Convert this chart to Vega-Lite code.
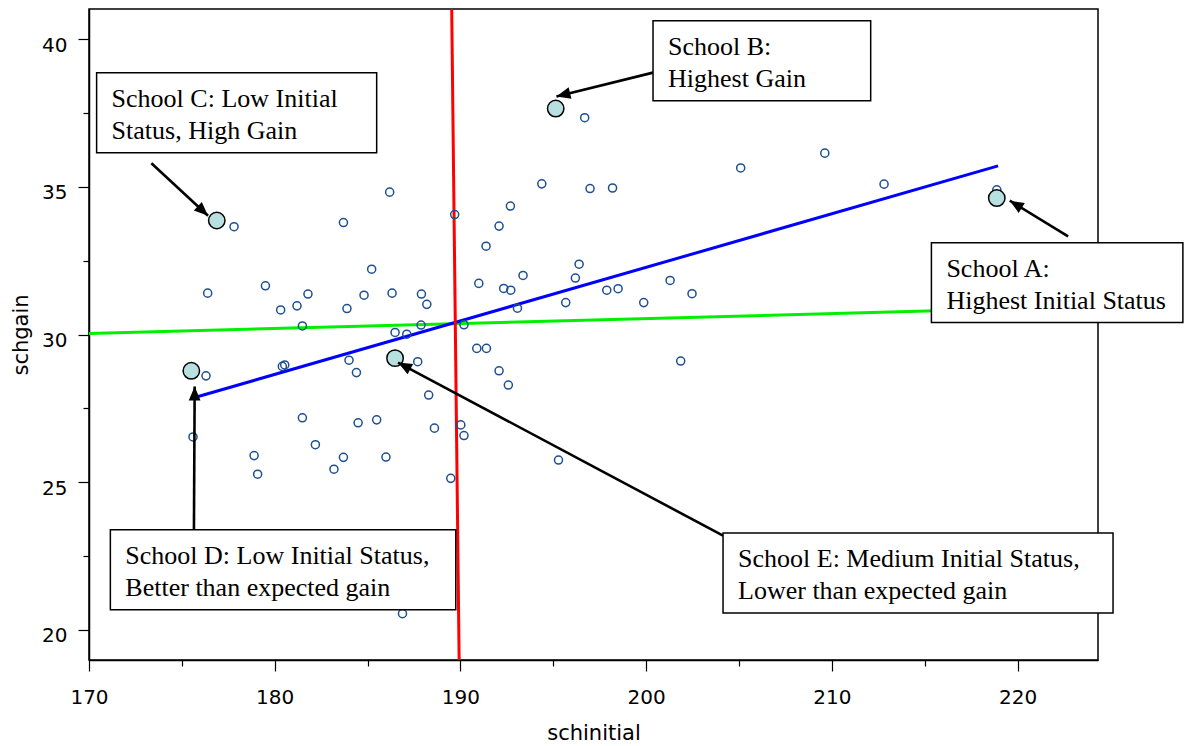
{
  "$schema": "https://vega.github.io/schema/vega-lite/v6.json",
  "width": 1009,
  "height": 651,
  "autosize": {"type": "none"},
  "padding": {"left": 89, "top": 9, "right": 87, "bottom": 86},
  "background": "white",
  "config": {
    "view": {"stroke": "#000000", "strokeWidth": 1.5},
    "axis": {
      "domainColor": "#000000", "tickColor": "#000000", "labelColor": "#000000", "titleColor": "#000000",
      "labelFont": "DejaVu Sans", "titleFont": "DejaVu Sans", "labelFontSize": 20, "titleFontSize": 21,
      "titleFontWeight": "normal", "grid": false, "domainWidth": 1.5, "tickWidth": 1.2, "labelFlush": false
    }
  },
  "datasets": {
    "pts": [
      {"schinitial": 177.81, "schgain": 33.65}, {"schinitial": 183.70, "schgain": 33.79}, {"schinitial": 186.19, "schgain": 34.82},
      {"schinitial": 189.69, "schgain": 34.06}, {"schinitial": 192.69, "schgain": 34.35}, {"schinitial": 192.08, "schgain": 33.67},
      {"schinitial": 191.38, "schgain": 32.99}, {"schinitial": 194.38, "schgain": 35.10}, {"schinitial": 196.98, "schgain": 34.94},
      {"schinitial": 198.19, "schgain": 34.96}, {"schinitial": 196.69, "schgain": 37.34}, {"schinitial": 205.09, "schgain": 35.64},
      {"schinitial": 209.62, "schgain": 36.14}, {"schinitial": 212.81, "schgain": 35.09}, {"schinitial": 218.88, "schgain": 34.90},
      {"schinitial": 176.39, "schgain": 31.40}, {"schinitial": 179.50, "schgain": 31.65}, {"schinitial": 180.32, "schgain": 30.83},
      {"schinitial": 181.20, "schgain": 30.97}, {"schinitial": 181.79, "schgain": 31.37}, {"schinitial": 181.49, "schgain": 30.29},
      {"schinitial": 183.89, "schgain": 30.88}, {"schinitial": 184.81, "schgain": 31.33}, {"schinitial": 185.22, "schgain": 32.21},
      {"schinitial": 186.32, "schgain": 31.40}, {"schinitial": 186.48, "schgain": 30.07}, {"schinitial": 180.41, "schgain": 28.92},
      {"schinitial": 180.54, "schgain": 28.97}, {"schinitial": 184.00, "schgain": 29.13}, {"schinitial": 184.40, "schgain": 28.71},
      {"schinitial": 176.30, "schgain": 28.60}, {"schinitial": 175.60, "schgain": 26.53}, {"schinitial": 181.49, "schgain": 27.18},
      {"schinitial": 184.49, "schgain": 27.01}, {"schinitial": 185.49, "schgain": 27.11}, {"schinitial": 182.19, "schgain": 26.27},
      {"schinitial": 178.89, "schgain": 25.90}, {"schinitial": 179.08, "schgain": 25.27}, {"schinitial": 183.19, "schgain": 25.44},
      {"schinitial": 183.70, "schgain": 25.84}, {"schinitial": 185.99, "schgain": 25.85}, {"schinitial": 196.39, "schgain": 32.38},
      {"schinitial": 193.37, "schgain": 32.00}, {"schinitial": 196.19, "schgain": 31.91}, {"schinitial": 190.99, "schgain": 31.73},
      {"schinitial": 192.33, "schgain": 31.56}, {"schinitial": 192.71, "schgain": 31.50}, {"schinitial": 187.90, "schgain": 31.37},
      {"schinitial": 188.19, "schgain": 31.02}, {"schinitial": 193.07, "schgain": 30.89}, {"schinitial": 195.67, "schgain": 31.08},
      {"schinitial": 197.88, "schgain": 31.50}, {"schinitial": 198.49, "schgain": 31.55}, {"schinitial": 201.29, "schgain": 31.83},
      {"schinitial": 202.47, "schgain": 31.38}, {"schinitial": 199.87, "schgain": 31.08}, {"schinitial": 187.88, "schgain": 30.32},
      {"schinitial": 190.19, "schgain": 30.33}, {"schinitial": 187.11, "schgain": 30.01}, {"schinitial": 190.88, "schgain": 29.53},
      {"schinitial": 191.40, "schgain": 29.53}, {"schinitial": 187.70, "schgain": 29.08}, {"schinitial": 192.08, "schgain": 28.77},
      {"schinitial": 192.58, "schgain": 28.29}, {"schinitial": 201.86, "schgain": 29.10}, {"schinitial": 188.29, "schgain": 27.95},
      {"schinitial": 188.60, "schgain": 26.83}, {"schinitial": 190.02, "schgain": 26.94}, {"schinitial": 190.19, "schgain": 26.58},
      {"schinitial": 195.28, "schgain": 25.75}, {"schinitial": 189.48, "schgain": 25.13}, {"schinitial": 186.88, "schgain": 20.55}
    ],
    "highlight": [
      {"school": "A", "schinitial": 218.88, "schgain": 34.62},
      {"school": "B", "schinitial": 195.13, "schgain": 37.65},
      {"school": "C", "schinitial": 176.88, "schgain": 33.86},
      {"school": "D", "schinitial": 175.51, "schgain": 28.77},
      {"school": "E", "schinitial": 186.48, "schgain": 29.20}
    ],
    "lines": [
      {"id": "green", "schinitial": 170.0, "schgain": 30.035},
      {"id": "green", "schinitial": 224.33, "schgain": 30.95},
      {"id": "blue", "schinitial": 175.6, "schgain": 27.85},
      {"id": "blue", "schinitial": 218.95, "schgain": 35.71},
      {"id": "red", "schinitial": 189.53, "schgain": 41.02},
      {"id": "red", "schinitial": 189.93, "schgain": 18.98}
    ],
    "boxes": [
      {"school": "C", "schinitial": 170.41, "schinitial2": 185.49, "schgain": 38.86, "schgain2": 36.15, "label": "School C: Low Initial\nStatus, High Gain"},
      {"school": "B", "schinitial": 200.37, "schinitial2": 212.09, "schgain": 40.62, "schgain2": 37.91, "label": "School B:\nHighest Gain"},
      {"school": "A", "schinitial": 215.36, "schinitial2": 228.9, "schgain": 33.11, "schgain2": 30.41, "label": "School A:\nHighest Initial Status"},
      {"school": "D", "schinitial": 171.15, "schinitial2": 189.75, "schgain": 23.39, "schgain2": 20.68, "label": "School D: Low Initial Status,\nBetter than expected gain"},
      {"school": "E", "schinitial": 204.14, "schinitial2": 225.14, "schgain": 23.28, "schgain2": 20.57, "label": "School E: Medium Initial Status,\nLower than expected gain"}
    ],
    "arrows": [
      {"school": "C", "schinitial": 173.36, "schgain": 35.80, "schinitial2": 176.41, "schgain2": 34.02, "angle": 132.96},
      {"school": "B", "schinitial": 200.59, "schgain": 38.90, "schinitial2": 195.17, "schgain2": 38.06, "angle": 256.04},
      {"school": "A", "schinitial": 222.72, "schgain": 33.32, "schinitial2": 219.58, "schgain2": 34.53, "angle": 301.48},
      {"school": "D", "schinitial": 175.65, "schgain": 23.33, "schinitial2": 175.69, "schgain2": 28.24, "angle": 0.28},
      {"school": "E", "schinitial": 204.14, "schgain": 23.19, "schinitial2": 186.64, "schgain2": 29.05, "angle": 298.07}
    ]
  },
  "encoding": {
    "x": {"field": "schinitial", "type": "quantitative", "scale": {"domain": [170, 224.33], "nice": false, "zero": false}, "axis": null},
    "y": {"field": "schgain", "type": "quantitative", "scale": {"domain": [18.98, 41.02], "nice": false, "zero": false}, "axis": null}
  },
  "layer": [
    {
      "data": {"name": "lines"},
      "mark": {"type": "line", "strokeWidth": 3, "clip": true},
      "encoding": {
        "x": {"field": "schinitial", "type": "quantitative", "scale": {"domain": [170, 224.33], "nice": false, "zero": false},
          "axis": {"orient": "bottom", "values": [170, 180, 190, 200, 210, 220], "tickSize": 11, "labelPadding": 16, "labelFlush": false, "title": "schinitial", "titlePadding": 15}},
        "y": {"field": "schgain", "type": "quantitative", "scale": {"domain": [18.98, 41.02], "nice": false, "zero": false},
          "axis": {"orient": "left", "values": [20, 25, 30, 35, 40], "tickSize": 11, "labelPadding": 11, "labelOffset": 6, "labelFlush": false, "title": "schgain", "titlePadding": 10}},
        "color": {"field": "id", "type": "nominal", "scale": {"domain": ["green", "blue", "red"], "range": ["#00f000", "#0000ff", "#ff0000"]}, "legend": null}
      }
    },
    {
      "data": {"name": "pts"},
      "mark": {"type": "point", "shape": "circle", "filled": false, "stroke": "#1d4f91", "strokeWidth": 1.5, "size": 65, "opacity": 1},
      "encoding": {
        "x": {"field": "schinitial", "type": "quantitative", "scale": {"domain": [170, 224.33], "nice": false, "zero": false},
          "axis": {"orient": "bottom", "values": [175, 185, 195, 205, 215], "tickSize": 6, "labels": false, "domain": false, "title": null}},
        "y": {"field": "schgain", "type": "quantitative", "scale": {"domain": [18.98, 41.02], "nice": false, "zero": false},
          "axis": {"orient": "left", "values": [22.5, 27.5, 32.5, 37.5], "tickSize": 6, "labels": false, "domain": false, "title": null}}
      }
    },
    {
      "data": {"name": "highlight"},
      "mark": {"type": "point", "shape": "circle", "filled": true, "fill": "#b9e0e0", "stroke": "#000000", "strokeWidth": 1.5, "size": 270, "opacity": 1}
    },
    {
      "data": {"name": "arrows"},
      "mark": {"type": "rule", "color": "#000000", "strokeWidth": 2.6},
      "encoding": {
        "x2": {"field": "schinitial2"},
        "y2": {"field": "schgain2"}
      }
    },
    {
      "data": {"name": "arrows"},
      "mark": {"type": "point", "shape": "M0,0L-0.42,1L0.42,1Z", "filled": true, "color": "#000000", "size": 784, "opacity": 1},
      "encoding": {
        "x": {"field": "schinitial2", "type": "quantitative", "scale": {"domain": [170, 224.33], "nice": false, "zero": false}, "axis": null},
        "y": {"field": "schgain2", "type": "quantitative", "scale": {"domain": [18.98, 41.02], "nice": false, "zero": false}, "axis": null},
        "angle": {"field": "angle", "type": "quantitative", "scale": null}
      }
    },
    {
      "data": {"name": "boxes"},
      "mark": {"type": "rect", "fill": "#ffffff", "stroke": "#000000", "strokeWidth": 1.5},
      "encoding": {
        "x2": {"field": "schinitial2"},
        "y2": {"field": "schgain2"}
      }
    },
    {
      "data": {"name": "boxes"},
      "mark": {"type": "text", "font": "Liberation Serif", "fontSize": 26, "lineHeight": 32, "align": "left", "baseline": "top", "dx": 15, "dy": 13, "lineBreak": "\n", "color": "#000000"},
      "encoding": {
        "text": {"field": "label", "type": "nominal"}
      }
    }
  ],
  "resolve": {"axis": {"x": "independent", "y": "independent"}}
}
